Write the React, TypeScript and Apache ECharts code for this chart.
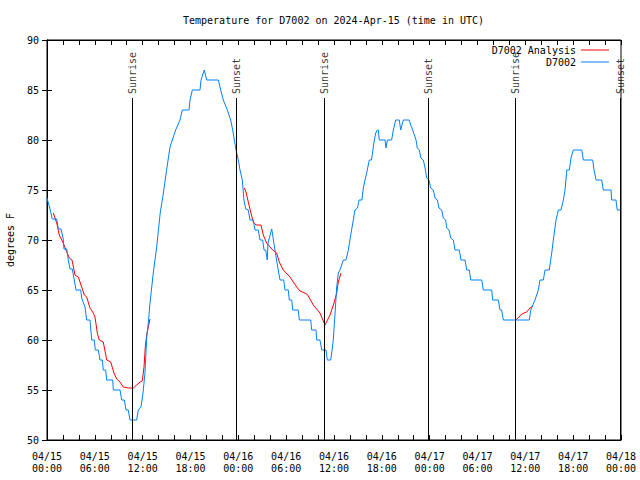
import React, { useEffect, useRef } from "react";
import * as echarts from "echarts";

// D7002 observations (hours since 04/15 00:00 UTC, degrees F)
const blueHours = [
  0.0, 0.38, 0.66, 1.22, 1.42, 1.76, 2.04, 2.13, 2.47, 2.67, 2.89, 3.17, 3.42, 3.64, 4.23, 4.35, 4.77, 4.98, 5.39, 5.61,
  5.93, 6.06, 6.44, 6.65, 6.94, 7.06, 7.36, 7.49, 8.24, 8.32, 9.16, 9.37, 9.7, 9.91, 10.2, 10.41, 11.25, 11.45, 11.79, 12.04,
  12.29, 12.51, 12.71, 12.92, 13.33, 13.76, 14.2, 14.6, 15.0, 15.43, 15.72, 16.14, 16.68, 16.97, 17.81, 17.94, 18.23, 19.19, 19.32, 19.73,
  20.03, 21.49, 21.79, 22.11, 22.62, 23.04, 23.29, 23.5, 23.71, 24.0, 24.21, 24.5, 24.7, 24.93, 25.25, 25.46, 25.88, 26.09, 26.5, 26.72,
  27.05, 27.22, 27.43, 27.63, 27.72, 28.19, 28.27, 28.4, 28.6, 28.8, 29.0, 29.23, 29.7, 29.85, 30.27, 30.39, 30.7, 30.82, 31.52, 31.65,
  33.08, 33.2, 33.74, 33.83, 34.24, 34.46, 35.0, 35.16, 35.59, 35.71, 35.91, 36.16, 36.34, 36.54, 36.75, 37.17, 37.5, 37.8, 38.1, 38.42,
  38.63, 38.95, 39.14, 39.5, 39.68, 39.89, 40.1, 40.3, 40.43, 40.7, 40.85, 41.02, 41.23, 41.43, 41.56, 41.68, 42.4, 42.52, 42.7, 43.23,
  43.44, 43.74, 44.19, 44.37, 44.53, 44.69, 45.44, 45.62, 45.87, 46.29, 46.45, 46.7, 46.9, 47.2, 47.4, 47.63, 47.92, 48.13, 48.46, 48.67,
  48.96, 49.17, 49.51, 49.71, 50.01, 50.14, 50.43, 50.64, 50.97, 51.18, 51.72, 51.93, 52.43, 52.65, 52.97, 53.15, 54.53, 54.73, 55.78, 55.91,
  56.61, 56.82, 57.03, 57.24, 60.5, 60.68, 61.21, 61.63, 61.84, 62.26, 62.47, 63.0, 63.31, 63.51, 63.85, 64.14, 64.48, 64.77, 64.98, 65.2,
  65.52, 65.73, 66.02, 67.08, 67.28, 68.45, 68.62, 68.87, 69.58, 69.78, 70.75, 70.83, 71.37, 71.53, 72.0,
];
const blueTemps = [
  74.2, 73.1, 72.1, 72.1, 71.1, 71.1, 70.1, 69.1, 69.1, 68.0, 67.1, 67.1, 66.0, 65.0, 65.0, 64.2, 63.3, 62.0, 62.0, 60.0,
  60.0, 59.0, 59.0, 58.0, 58.0, 57.0, 57.0, 56.0, 56.0, 55.0, 55.0, 54.0, 54.0, 53.0, 53.0, 52.0, 52.0, 53.0, 53.3, 54.7,
  56.7, 60.3, 61.7, 63.7, 66.7, 69.3, 72.7, 74.7, 77.0, 79.3, 80.0, 81.0, 82.0, 83.0, 83.0, 84.0, 85.0, 85.0, 86.0, 87.0,
  86.0, 86.0, 85.0, 84.0, 83.0, 82.0, 81.0, 80.0, 79.0, 78.0, 77.0, 76.0, 74.0, 73.1, 73.0, 72.0, 72.0, 71.0, 71.0, 70.0,
  70.0, 69.0, 69.0, 68.0, 69.7, 71.1, 70.7, 70.0, 69.0, 68.0, 67.0, 66.0, 66.0, 65.0, 65.0, 64.0, 64.0, 63.0, 63.0, 62.0,
  62.0, 61.0, 61.0, 60.0, 60.0, 59.0, 59.0, 58.0, 58.0, 58.7, 60.0, 63.0, 65.3, 66.7, 67.0, 68.0, 68.0, 69.0, 70.5, 72.0,
  73.0, 73.2, 74.0, 74.0, 75.2, 76.0, 76.7, 77.5, 78.0, 78.0, 78.8, 79.8, 80.7, 81.0, 81.0, 80.0, 80.0, 79.2, 80.0, 80.0,
  81.0, 82.0, 82.0, 81.0, 81.5, 82.0, 82.0, 81.5, 81.0, 80.0, 79.2, 79.0, 78.2, 78.0, 77.3, 76.2, 76.0, 75.2, 75.0, 74.2,
  74.0, 73.2, 73.0, 72.2, 72.0, 71.2, 71.0, 70.2, 70.0, 69.0, 69.0, 68.0, 68.0, 67.0, 67.0, 66.0, 66.0, 65.0, 65.0, 64.0,
  64.0, 63.0, 63.0, 62.0, 62.0, 63.0, 64.0, 65.0, 66.0, 66.0, 67.0, 67.0, 68.7, 70.0, 72.0, 73.0, 73.0, 74.0, 75.0, 77.0,
  77.0, 78.2, 79.0, 79.0, 78.0, 78.0, 77.0, 76.0, 76.0, 75.0, 75.0, 74.0, 74.0, 73.0, 73.0,
];

// D7002 Analysis, three separate segments
const analysis1Hours = [
  0.79, 1.22, 1.54, 2.04, 2.38, 2.8, 3.14, 3.51, 3.93, 4.35, 4.68, 4.98, 5.39, 5.81, 6.02, 6.31, 6.56, 7.06, 7.49, 7.99,
  8.4, 8.74, 9.16, 9.57, 10.2, 10.83, 11.25, 11.67, 11.95, 12.17, 12.33, 12.5, 12.92,
];
const analysis1Temps = [
  72.7, 71.7, 70.5, 69.7, 69.0, 68.2, 68.0, 66.5, 66.3, 65.3, 64.5, 64.3, 63.2, 62.7, 62.3, 60.7, 60.0, 59.8, 58.0, 57.8,
  56.7, 56.1, 55.8, 55.3, 55.2, 55.2, 55.5, 55.8, 55.9, 57.3, 59.3, 60.5, 62.1,
];
const analysis2Hours = [
  24.75, 24.96, 25.25, 25.55, 25.88, 26.22, 26.84, 27.13, 27.55, 27.97, 28.31, 28.81, 29.14, 29.64, 30.48, 31.32, 31.74,
  32.58, 32.78, 33.4, 34.24, 34.87, 35.5, 36.0, 36.34, 36.54, 36.88,
];
const analysis2Temps = [
  75.2, 74.8, 73.8, 72.8, 71.8, 71.5, 71.5, 70.5, 69.7, 69.3, 69.0, 68.7, 67.8, 67.0, 66.3, 65.3, 64.9,
  64.6, 64.4, 63.5, 62.7, 61.5, 62.5, 63.7, 64.7, 65.8, 66.7,
];
const analysis3Hours = [58.79, 59.08, 59.54, 60.17, 60.59, 60.92];
const analysis3Temps = [62.0, 62.2, 62.6, 62.8, 63.2, 63.4];

// Sunrise / sunset markers
const sunHours = [10.69, 23.75, 34.79, 47.83, 58.79, 71.9];
const sunNames = ["Sunrise", "Sunset", "Sunrise", "Sunset", "Sunrise", "Sunset"];

const xTickLabels = [
  "04/15\n00:00", "04/15\n06:00", "04/15\n12:00", "04/15\n18:00",
  "04/16\n00:00", "04/16\n06:00", "04/16\n12:00", "04/16\n18:00",
  "04/17\n00:00", "04/17\n06:00", "04/17\n12:00", "04/17\n18:00",
  "04/18\n00:00",
];

const MONO = "'DejaVu Sans Mono', 'Liberation Mono', monospace";

export default function App() {
  const ref = useRef<HTMLDivElement>(null);
  useEffect(() => {
    if (!ref.current) return;
    const chart = echarts.init(ref.current, null, { renderer: "svg" });

    const pairs = (hs: number[], ts: number[]) => hs.map((h, i) => [h, ts[i]]);
    const blue = pairs(blueHours, blueTemps);
    const red = [
      ...pairs(analysis1Hours, analysis1Temps),
      [18, null],
      ...pairs(analysis2Hours, analysis2Temps),
      [48, null],
      ...pairs(analysis3Hours, analysis3Temps),
    ];

    const tickCommon = {
      axisLine: { show: true, lineStyle: { color: "#000", width: 1 } },
      axisTick: { show: true, inside: true, length: 5, lineStyle: { color: "#000" } },
      splitLine: { show: false },
    };

    chart.setOption({
      animation: false,
      backgroundColor: "#fff",
      title: {
        text: "Temperature for D7002 on 2024-Apr-15 (time in UTC)",
        left: 178,
        top: 10,
        textStyle: { fontFamily: MONO, fontSize: 10, fontWeight: "normal", color: "#000" },
      },
      legend: {
        data: ["D7002 Analysis", "D7002"],
        orient: "vertical",
        right: 31,
        top: 44,
        padding: 0,
        align: "right",
        icon: "rect",
        itemWidth: 28,
        itemHeight: 1,
        itemGap: 0,
        textStyle: { fontFamily: MONO, fontSize: 10, color: "#000", lineHeight: 12 },
      },
      grid: {
        left: 47,
        right: 19,
        top: 40,
        bottom: 40,
        show: true,
        borderColor: "#000",
        borderWidth: 1,
        backgroundColor: "transparent",
        containLabel: false,
        outerBoundsMode: "none",
      },
      xAxis: [
        {
          type: "value",
          min: 0,
          max: 72,
          interval: 6,
          position: "bottom",
          ...tickCommon,
          minorTick: { show: true, splitNumber: 3, length: 5, lineStyle: { color: "#000" } },
          minorSplitLine: { show: false },
          axisLabel: {
            formatter: (v: number) => xTickLabels[Math.round(v / 6)] ?? "",
            fontFamily: MONO,
            fontSize: 10,
            lineHeight: 12,
            color: "#000",
            margin: 10,
          },
        },
        {
          type: "value",
          min: 0,
          max: 72,
          interval: 6,
          position: "top",
          ...tickCommon,
          minorTick: { show: true, splitNumber: 3, length: 5, lineStyle: { color: "#000" } },
          minorSplitLine: { show: false },
          axisLabel: { show: false },
        },
      ],
      yAxis: [
        {
          type: "value",
          min: 50,
          max: 90,
          interval: 5,
          position: "left",
          ...tickCommon,
          name: "degrees F",
          nameLocation: "middle",
          nameRotate: 90,
          nameGap: 32,
          nameTextStyle: { fontFamily: MONO, fontSize: 10, color: "#000" },
          axisLabel: { fontFamily: MONO, fontSize: 10, color: "#000", margin: 8 },
        },
        {
          type: "value",
          min: 50,
          max: 90,
          interval: 5,
          position: "right",
          ...tickCommon,
          axisLabel: { show: false },
        },
      ],
      series: [
        {
          name: "D7002 Analysis",
          type: "line",
          data: red,
          showSymbol: false,
          symbol: "none",
          connectNulls: false,
          color: "#ff0000",
          lineStyle: { color: "#ff0000", width: 1 },
          z: 3,
        },
        {
          name: "D7002",
          type: "line",
          data: blue,
          showSymbol: false,
          symbol: "none",
          color: "#0080ff",
          lineStyle: { color: "#0080ff", width: 1 },
          z: 4,
        },
        {
          name: "sun",
          type: "scatter",
          symbolSize: 0,
          data: sunHours.map((h, i) => ({ name: sunNames[i], value: [h, 84.6] })),
          label: {
            show: true,
            formatter: "{b}",
            position: "inside",
            rotate: 90,
            align: "left",
            verticalAlign: "middle",
            fontFamily: MONO,
            fontSize: 10,
            color: "#000",
          },
          markLine: {
            silent: true,
            symbol: ["none", "none"],
            label: { show: false },
            lineStyle: { color: "#000", width: 1, type: "solid" },
            data: sunHours.map((h) => [{ coord: [h, 50] }, { coord: [h, 84.2] }]),
          },
          z: 5,
        },
      ],
    });

    return () => chart.dispose();
  }, []);

  return (
    <div
      ref={ref}
      style={{ position: "fixed", left: 0, top: 0, width: 640, height: 480, background: "#fff" }}
    />
  );
}
